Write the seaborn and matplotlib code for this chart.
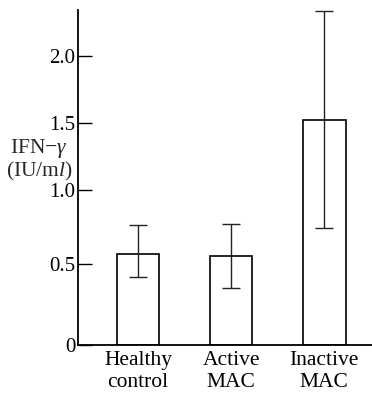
import numpy as np
import matplotlib
matplotlib.use("Agg")
import matplotlib.pyplot as plt
import seaborn as sns

# values (IFN-gamma, IU/ml)
groups = ["Healthy\ncontrol", "Active\nMAC", "Inactive\nMAC"]
means = [0.57, 0.55, 1.52]
err_low = [0.42, 0.35, 0.74]
err_high = [0.76, 0.77, 2.33]
ytick_vals = [0, 0.5, 1.0, 1.5, 2.0]
ytick_labels = ["0", "0.5", "1.0", "1.5", "2.0"]

# the printed axis is not evenly spaced: calibrate it piecewise
axis_vals = np.array([-0.5, 0, 0.5, 1.0, 1.5, 2.0, 2.5])
axis_pos = np.array([-81, 0, 81, 155, 222, 289, 356])


def fwd(v):
    return np.interp(v, axis_vals, axis_pos)


def inv(p):
    return np.interp(p, axis_pos, axis_vals)


sns.set_theme(style="ticks")
plt.rcParams["font.family"] = ["Liberation Serif", "DejaVu Serif"]
plt.rcParams["mathtext.fontset"] = "custom"
plt.rcParams["mathtext.rm"] = "Liberation Serif"
plt.rcParams["mathtext.it"] = "Liberation Serif:italic"

fig = plt.figure(figsize=(3.72, 3.93), dpi=100)
ax = fig.add_axes([78 / 372, 48 / 393, 294 / 372, 335 / 393])

sns.barplot(x=groups, y=means, color="white", edgecolor="black",
            linewidth=1.2, width=0.457, errorbar=None, saturation=1, ax=ax)

yerr = [np.array(means) - np.array(err_low), np.array(err_high) - np.array(means)]
ax.errorbar(np.arange(len(groups)), means, yerr=yerr, fmt="none",
            ecolor="#222222", elinewidth=1.0, capsize=6.5, capthick=1.0)

ax.set_yscale("function", functions=(fwd, inv))
ax.set_ylim(0, 2.34)
ax.set_xlim(-0.645, 2.513)
ax.set_yticks(ytick_vals, ytick_labels)
ax.tick_params(axis="y", direction="in", length=10, width=1.0, pad=2,
               labelsize=15, colors="black")
ax.tick_params(axis="x", length=0, pad=4, labelsize=15.5, colors="black")
for lab in ax.get_xticklabels():
    lab.set_linespacing(1.25)
ax.yaxis.set_minor_locator(matplotlib.ticker.NullLocator())
ax.set_xlabel("")
ax.set_ylabel("")

for s in ["top", "right"]:
    ax.spines[s].set_visible(False)
for s in ["left", "bottom"]:
    ax.spines[s].set_linewidth(1.3)
    ax.spines[s].set_color("black")

fig.text(39 / 372, 1 - 160 / 393, "IFN$-\\mathit{\\gamma}$\n(IU/m$\\mathit{l}$)",
         ha="center", va="center", fontsize=15.5, multialignment="center",
         linespacing=1.0)

fig.savefig("out.png", dpi=100)
